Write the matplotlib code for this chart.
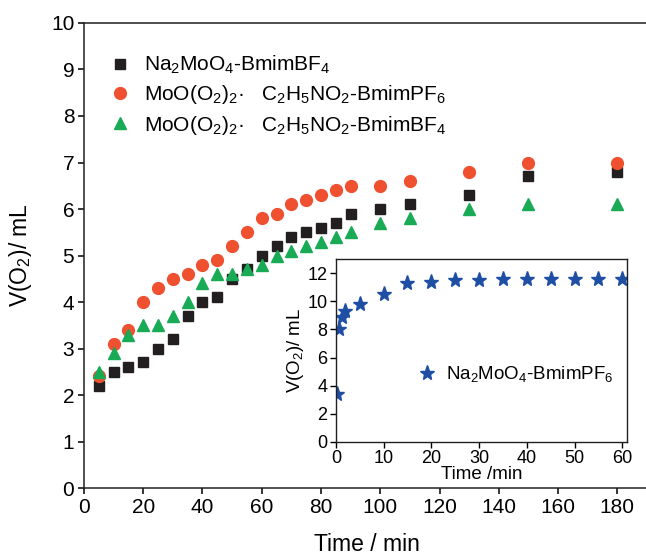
import numpy as np
import matplotlib
matplotlib.use("Agg")
from matplotlib import pyplot as plt

plt.rcParams['font.family'] = ['Liberation Sans', 'DejaVu Sans']
plt.rcParams['mathtext.default'] = 'regular'

# main plot data
t_main = [5, 10, 15, 20, 25, 30, 35, 40, 45, 50, 55, 60, 65, 70, 75, 80, 85, 90, 100, 110, 130, 150, 180]
na_bf4 = [2.2, 2.5, 2.6, 2.7, 3.0, 3.2, 3.7, 4.0, 4.1, 4.5, 4.7, 5.0, 5.2, 5.4, 5.5, 5.6, 5.7, 5.9, 6.0, 6.1, 6.3, 6.7, 6.8]
moo_pf6 = [2.4, 3.1, 3.4, 4.0, 4.3, 4.5, 4.6, 4.8, 4.9, 5.2, 5.5, 5.8, 5.9, 6.1, 6.2, 6.3, 6.4, 6.5, 6.5, 6.6, 6.8, 7.0, 7.0]
moo_bf4 = [2.5, 2.9, 3.3, 3.5, 3.5, 3.7, 4.0, 4.4, 4.6, 4.6, 4.7, 4.8, 5.0, 5.1, 5.2, 5.3, 5.4, 5.5, 5.7, 5.8, 6.0, 6.1, 6.1]

# inset data
t_ins = [0.3, 0.6, 1.2, 2, 5, 10, 15, 20, 25, 30, 35, 40, 45, 50, 55, 60]
na_pf6 = [3.4, 8.0, 8.9, 9.3, 9.8, 10.5, 11.3, 11.4, 11.5, 11.5, 11.6, 11.6, 11.6, 11.6, 11.6, 11.6]

lab1 = 'Na$_2$MoO$_4$-BmimBF$_4$'
lab2 = 'MoO(O$_2$)$_2$·   C$_2$H$_5$NO$_2$-BmimPF$_6$'
lab3 = 'MoO(O$_2$)$_2$·   C$_2$H$_5$NO$_2$-BmimBF$_4$'
lab4 = 'Na$_2$MoO$_4$-BmimPF$_6$'

fig = plt.figure(figsize=(6.46, 5.58), dpi=100)
ax = fig.add_axes([0.130, 0.1254, 0.876, 0.8334])
ax.plot(t_main, na_bf4, 's', color='#231f20', ms=7, mec='#231f20', label=lab1)
ax.plot(t_main, moo_pf6, 'o', color='#ee5030', ms=8.5, mec='#ee5030', label=lab2)
ax.plot(t_main, moo_bf4, '^', color='#19aa55', ms=9, mec='#19aa55', label=lab3)
ax.set_xlim(0, 191)
ax.set_ylim(0, 10)
ax.set_xticks(range(0, 181, 20))
ax.set_yticks(range(0, 11))
ax.tick_params(direction='out', length=4, width=1.1, labelsize=15, pad=3)
for s in ax.spines.values():
    s.set_linewidth(1.1)
    s.set_color('#231f20')
ax.set_xlabel('Time / min', fontsize=16.5, labelpad=12)
ax.set_ylabel('V(O$_2$)/ mL', fontsize=16.5, labelpad=12)
ax.legend(loc='upper left', bbox_to_anchor=(0.011, 0.965), frameon=False, fontsize=15,
          handletextpad=0.4, labelspacing=0.35, borderaxespad=0.3, handlelength=1.5)

ins = fig.add_axes([0.520, 0.2079, 0.4506, 0.3279])
ins.plot(t_ins, na_pf6, '*', color='#1e4fa5', ms=11, mec='#1e4fa5', label=lab4)
ins.set_xlim(0, 61)
ins.set_ylim(0, 13)
ins.set_xticks(range(0, 61, 10))
ins.set_yticks(range(0, 13, 2))
ins.tick_params(direction='out', length=4, width=1.0, labelsize=13, pad=2)
for s in ins.spines.values():
    s.set_linewidth(1.0)
    s.set_color('#231f20')
ins.set_xlabel('Time /min', fontsize=13.5, labelpad=-1)
ins.set_ylabel('V(O$_2$)/ mL', fontsize=13.5, labelpad=1)
ins.legend(loc='center left', bbox_to_anchor=(0.216, 0.37), frameon=False, fontsize=13.5,
           handletextpad=0.4, handlelength=1.2)

fig.savefig('out.png', dpi=100)
